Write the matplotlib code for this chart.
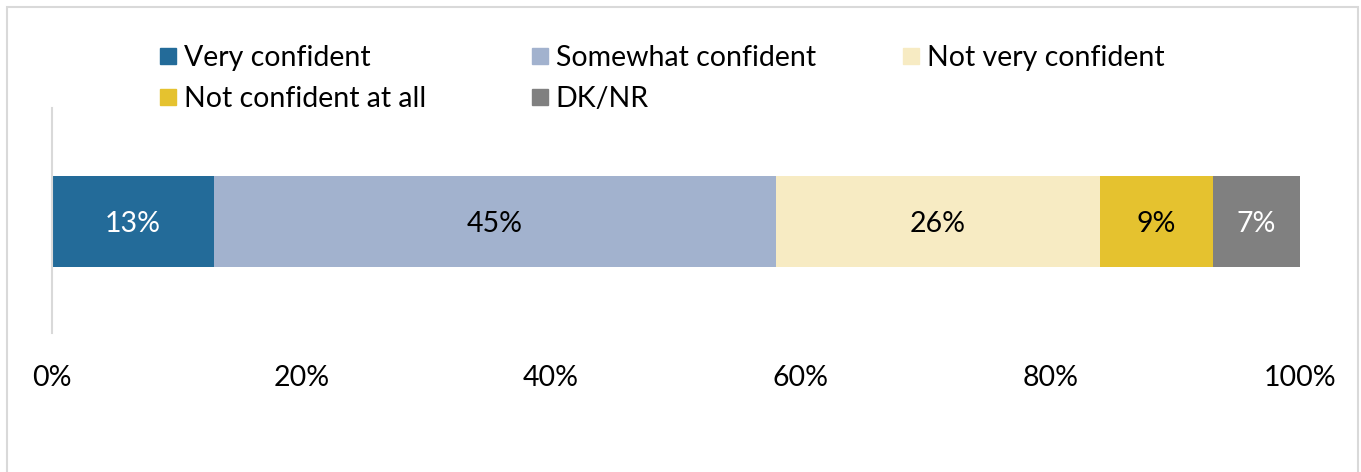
import matplotlib.pyplot as plt
from matplotlib.patches import Rectangle

categories = ["Very confident", "Somewhat confident", "Not very confident",
              "Not confident at all", "DK/NR"]
values = [13, 45, 26, 9, 7]
colors = ["#236B99", "#A2B2CE", "#F7EBC3", "#E5C22F", "#808080"]
label_colors = ["white", "black", "black", "black", "white"]
ticks = [0, 20, 40, 60, 80, 100]

plt.rcParams['font.family'] = ['Lato', 'DejaVu Sans']
fs = 20.5

W, H = 1361, 472
fig = plt.figure(figsize=(W / 100, H / 100), dpi=100)

# outer frame (cropped chart box)
fig.patches.append(Rectangle((7 / W, -0.1), (1358 - 7) / W, 1.1 - 7 / H,
                             transform=fig.transFigure, fill=False,
                             edgecolor="#D9D9D9", linewidth=1.5))

ax = fig.add_axes([52 / W, 1 - 333 / H, (1300 - 52) / W, (333 - 108) / H])

left = 0
for v, c, lc in zip(values, colors, label_colors):
    ax.barh(0, v, left=left, height=0.825, color=c)
    ax.text(left + v / 2, -0.02, f"{v}%", ha="center", va="center",
            color=lc, fontsize=fs)
    left += v

ax.set_xlim(0, 100)
ax.set_ylim(-1.01, 1.03)
ax.set_yticks([])
ax.set_xticks(ticks)
ax.set_xticklabels([f"{t}%" for t in ticks], fontsize=fs)
ax.tick_params(axis="x", length=0, pad=23)
for s in ["top", "right", "bottom"]:
    ax.spines[s].set_visible(False)
ax.spines["left"].set_color("#D9D9D9")
ax.spines["left"].set_linewidth(1.5)

# legend, 3 columns
for i, (name, c) in enumerate(zip(categories, colors)):
    col, row = i % 3, i // 3
    x = 160 + col * 371.5
    y = 57 + row * 41
    fig.patches.append(Rectangle((x / W, 1 - (y + 7) / H), 16 / W, 16 / H,
                                 transform=fig.transFigure, color=c))
    fig.text((x + 24) / W, 1 - (y + 1) / H, name, ha="left", va="center",
             fontsize=fs, color="black")

fig.savefig("out.png", dpi=100)
